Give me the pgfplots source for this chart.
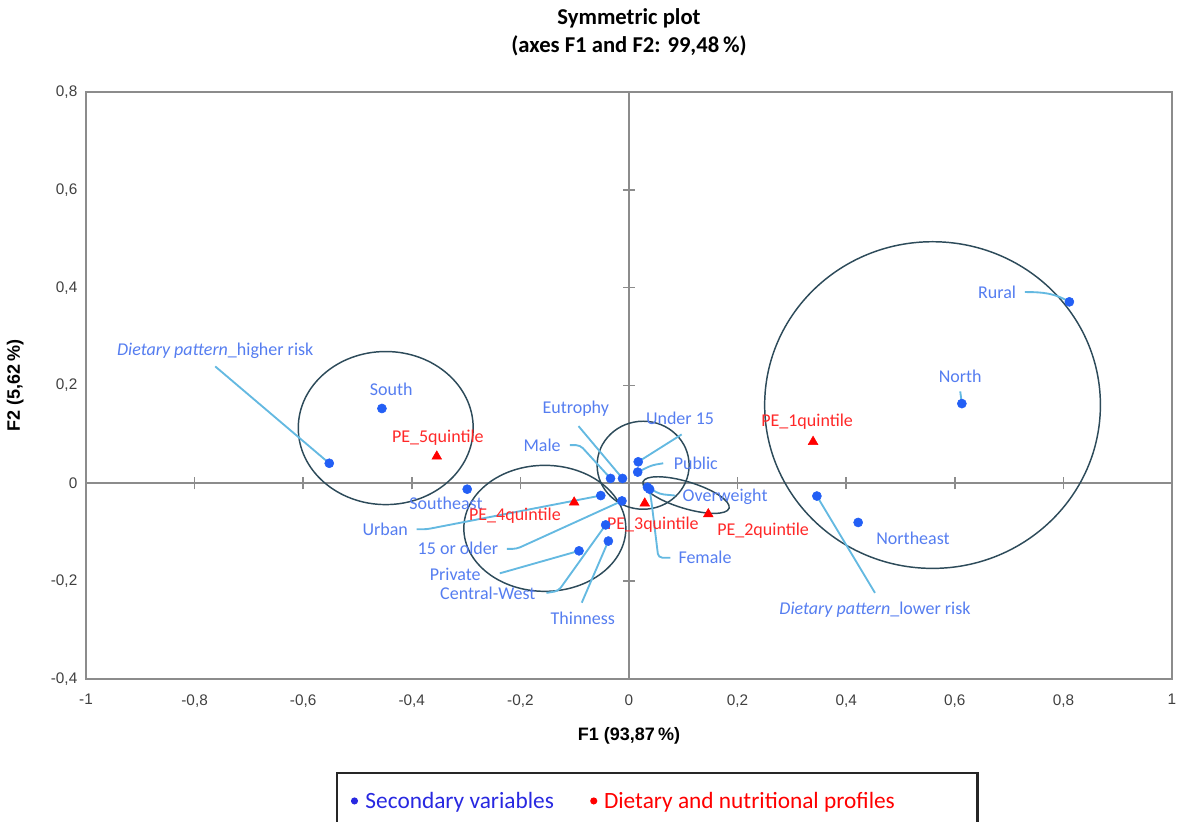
\documentclass[border=0pt]{standalone}
\usepackage{fontspec}
\setmainfont{Carlito}
\newfontfamily\ticksfont{Liberation Sans}
\usepackage{pgfplots}
\pgfplotsset{compat=1.18}
\definecolor{ptblue}{RGB}{35,95,245}
\definecolor{lblblue}{RGB}{85,125,240}
\definecolor{legblue}{RGB}{40,40,225}
\definecolor{ptred}{RGB}{255,0,0}
\definecolor{lblred}{RGB}{255,40,40}
\definecolor{leader}{RGB}{100,185,225}
\definecolor{ellc}{RGB}{45,75,90}
\definecolor{framegray}{RGB}{140,140,140}
\tikzset{
  lbl/.style={text=lblblue, font=\fontsize{13.5}{16}\selectfont, inner sep=0pt},
  rlbl/.style={text=lblred, font=\fontsize{13.5}{16}\selectfont, inner sep=0pt},
  ldr/.style={draw=leader, line width=1.4pt, rounded corners=3pt},
  ell/.style={draw=ellc, line width=1.1pt},
}
\begin{document}
\begin{tikzpicture}
\begin{axis}[
  at={(0,0)}, anchor=south west,
  scale only axis, width=814.5pt, height=440.25pt,
  xmin=-1, xmax=1, ymin=-0.4, ymax=0.8,
  xtick={-1,-0.8,-0.6,-0.4,-0.2,0,0.2,0.4,0.6,0.8,1},
  ytick={-0.4,-0.2,0,0.2,0.4,0.6,0.8},
  major tick length=0pt,
  axis line style={draw=framegray, line width=1.5pt},
  tick label style={font=\ticksfont\fontsize{11.5}{13}\selectfont, text=black!75},
  xticklabel style={yshift=-8pt},
  yticklabel style={xshift=-3pt},
  title={Symmetric plot\\(axes F1 and F2: 99,48\,\%)},
  title style={at={(axis description cs:0.5,1)}, anchor=south, align=center,
    font=\bfseries\fontsize{17}{21}\selectfont, inner sep=0pt, yshift=20.5pt},
  xlabel={F1 (93,87\,\%)},
  xlabel style={at={(axis description cs:0.5,-0.0971)}, anchor=center,
    font=\ticksfont\bfseries\fontsize{13.5}{16}\selectfont},
  ylabel={F2 (5,62\,\%)},
  ylabel style={at={(axis description cs:-0.0651,0.5)}, anchor=center,
    font=\ticksfont\bfseries\fontsize{13.5}{16}\selectfont},
  legend columns=2,
  legend style={at={(axis description cs:0.2302,-0.1584)}, anchor=north west,
    draw=black!85, line width=1.8pt, inner xsep=5pt, inner ysep=12pt,
    font=\fontsize{17.5}{20}\selectfont,
    /tikz/every even column/.append style={column sep=25pt}},
  /pgf/number format/use comma,
  /pgf/number format/fixed,
  /pgf/number format/assume math mode=true,
]
% centre lines with ticks
\draw[framegray, line width=1.5pt] (axis cs:-1,0) -- (axis cs:1,0);
\draw[framegray, line width=1.5pt] (axis cs:0,-0.4) -- (axis cs:0,0.8);
\pgfplotsinvokeforeach{-0.8,-0.6,-0.4,-0.2,0.2,0.4,0.6,0.8}{
  \draw[framegray, line width=1.2pt] ([yshift=-4.5pt]axis cs:#1,0) -- ([yshift=4.5pt]axis cs:#1,0);}
\pgfplotsinvokeforeach{-0.2,0.2,0.4,0.6}{
  \draw[framegray, line width=1.2pt] ([xshift=-4.5pt]axis cs:0,#1) -- ([xshift=4.5pt]axis cs:0,#1);}

% ellipses
\draw[ell] (axis cs:-0.448,0.113) ellipse [x radius=65.6pt, y radius=57.4pt];
\draw[ell] (axis cs:-0.155,-0.092) ellipse [x radius=60.75pt, y radius=47.25pt];
\draw[ell] (axis cs:0.026,0.037) ellipse [x radius=34.5pt, y radius=33pt];
\draw[ell] (axis cs:0.105,-0.024) ellipse [x radius=33.75pt, y radius=10pt, rotate=-17];
\draw[ell] (axis cs:0.559,0.160) ellipse [x radius=125.9pt, y radius=122.5pt];

% leader lines
\draw[ldr] (axis cs:-0.762,0.239) -- (axis cs:-0.552,0.041);
\draw[ldr] (axis cs:-0.391,-0.094) -- (axis cs:-0.373,-0.094) -- (axis cs:-0.052,-0.025);
\draw[ldr] (axis cs:-0.225,-0.134) -- (axis cs:-0.207,-0.134) -- (axis cs:-0.013,-0.036);
\draw[ldr] (axis cs:-0.238,-0.184) -- (axis cs:-0.092,-0.138);
\draw[ldr] (axis cs:-0.152,-0.224) -- (axis cs:-0.130,-0.220) -- (axis cs:-0.043,-0.085);
\draw[ldr] (axis cs:-0.087,-0.244) -- (axis cs:-0.038,-0.118);
\draw[ldr] (axis cs:-0.109,0.078) -- (axis cs:-0.090,0.078) -- (axis cs:-0.034,0.010);
\draw[ldr] (axis cs:-0.093,0.117) -- (axis cs:-0.012,0.010);
\draw[ldr] (axis cs:0.097,0.100) -- (axis cs:0.017,0.044);
\draw[ldr] (axis cs:0.063,0.041) -- (axis cs:0.042,0.037) -- (axis cs:0.016,0.023);
\draw[ldr] (axis cs:0.085,-0.025) -- (axis cs:0.057,-0.022) -- (axis cs:0.034,-0.008);
\draw[ldr] (axis cs:0.076,-0.152) -- (axis cs:0.054,-0.152) -- (axis cs:0.042,-0.043) -- (axis cs:0.038,-0.012);
\draw[ldr] (axis cs:0.729,0.391) to[out=0,in=150] (axis cs:0.811,0.371);
\draw[ldr] (axis cs:0.610,0.188) -- (axis cs:0.613,0.163);
\draw[ldr] (axis cs:0.453,-0.224) -- (axis cs:0.346,-0.026);

% data
\addplot[only marks, mark=*, mark size=3.4pt, color=ptblue, forget plot] table {
x y
-0.552 0.041
-0.455 0.153
-0.298 -0.012
-0.052 -0.025
-0.034 0.010
-0.012 0.010
-0.013 -0.036
0.017 0.044
0.016 0.023
0.034 -0.008
0.038 -0.012
-0.043 -0.085
-0.038 -0.118
-0.092 -0.138
0.811 0.371
0.613 0.163
0.346 -0.026
0.422 -0.080
};
\addplot[only marks, mark=triangle*, mark size=4.2pt, color=ptred, forget plot] table {
x y
-0.354 0.055
-0.101 -0.039
0.029 -0.041
0.146 -0.063
0.339 0.085
};

% labels
\node[lbl] at (axis cs:-0.762,0.270) {{\itshape Dietary pattern}\_higher risk};
\node[lbl] at (axis cs:-0.438,0.192) {South};
\node[rlbl] at (axis cs:-0.352,0.094) {PE\_5quintile};
\node[lbl] at (axis cs:-0.337,-0.041) {Southeast};
\node[rlbl] at (axis cs:-0.210,-0.067) {PE\_4quintile};
\node[lbl] at (axis cs:-0.449,-0.094) {Urban};
\node[lbl] at (axis cs:-0.315,-0.133) {15 or older};
\node[lbl] at (axis cs:-0.320,-0.186) {Private};
\node[lbl] at (axis cs:-0.260,-0.225) {Central-West};
\node[lbl] at (axis cs:-0.085,-0.276) {Thinness};
\node[lbl] at (axis cs:-0.160,0.078) {Male};
\node[lbl] at (axis cs:-0.098,0.153) {Eutrophy};
\node[lbl] at (axis cs:0.094,0.133) {Under 15};
\node[lbl] at (axis cs:0.123,0.041) {Public};
\node[lbl] at (axis cs:0.177,-0.027) {Overweight};
\node[rlbl] at (axis cs:0.044,-0.084) {PE\_3quintile};
\node[rlbl] at (axis cs:0.247,-0.096) {PE\_2quintile};
\node[lbl] at (axis cs:0.140,-0.151) {Female};
\node[lbl] at (axis cs:0.678,0.391) {Rural};
\node[lbl] at (axis cs:0.610,0.219) {North};
\node[rlbl] at (axis cs:0.328,0.125) {PE\_1quintile};
\node[lbl] at (axis cs:0.523,-0.112) {Northeast};
\node[lbl] at (axis cs:0.453,-0.258) {{\itshape Dietary pattern}\_lower risk};

% legend
\addlegendimage{legend image code/.code={\path[draw=none,fill=none] (0,-0.05cm) rectangle (0.5cm,0.05cm); \fill[legblue] (0.28cm,0) circle (1.7pt);}}
\addlegendentry{\textcolor{legblue}{Secondary variables}}
\addlegendimage{legend image code/.code={\path[draw=none,fill=none] (0,-0.05cm) rectangle (0.3cm,0.05cm); \fill[ptred] (0.1cm,0) circle (1.7pt);}}
\addlegendentry{\makebox[273pt][l]{\textcolor{ptred}{Dietary and nutritional profiles}}}
\end{axis}
\pgfresetboundingbox
\path[use as bounding box] (-64.5pt,-106.5pt) rectangle (821.25pt,509.25pt);
\end{tikzpicture}
\end{document}
